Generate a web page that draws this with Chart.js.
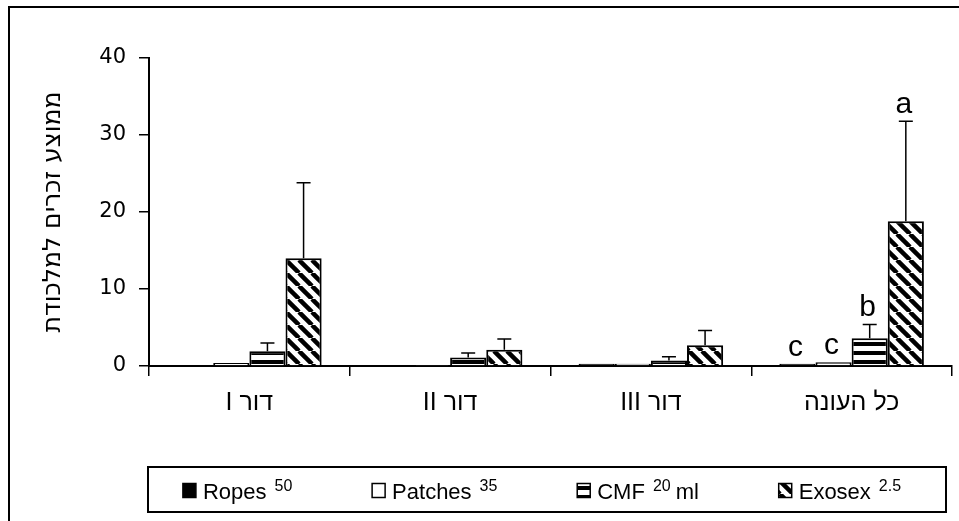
<!DOCTYPE html>
<html>
<head>
<meta charset="utf-8">
<script src="https://cdn.jsdelivr.net/npm/chart.js@4.4.0/dist/chart.umd.min.js"></script>
<style>
  html, body { margin: 0; padding: 0; background: #fff; }
  #wrap { position: relative; width: 959px; height: 521px; overflow: hidden; }
  #frame { position: absolute; left: 8px; top: 6px; width: 1000px; height: 600px;
           border-left: 2px solid #000; border-top: 2px solid #000; }
  canvas { position: absolute; left: 0; top: 0; }
</style>
</head>
<body>
<div id="wrap">
  <div id="frame"></div>
  <canvas id="chart" width="959" height="521"></canvas>
</div>
<script>
// categories and tick labels
const categories = ["דור I", "דור II", "דור III", "כל העונה"];
const yTicks = [0, 10, 20, 30, 40];
const yTitle = "ממוצע זכרים למלכודת";

// legend text: name, superscript dose, unit
const seriesNames = ["Ropes", "Patches", "CMF", "Exosex"];
const seriesDose = ["50", "35", "20", "2.5"];
const seriesUnit = ["", "", "ml", ""];

// means
const ropes = [0.05, 0.05, 0.3, 0.3];
const patches = [0.4, 0.05, 0.3, 0.5];
const cmf = [1.9, 1.1, 0.7, 3.6];
const exosex = [14.0, 2.1, 2.7, 18.8];

// upper error (added on top of the mean)
const ropesErr = [0, 0, 0, 0];
const patchesErr = [0, 0, 0, 0];
const cmfErr = [1.1, 0.6, 0.5, 1.8];
const exosexErr = [9.8, 1.4, 1.9, 13.0];

// significance letters
const ropesLetters = ["", "", "", "c"];
const patchesLetters = ["", "", "", "c"];
const cmfLetters = ["", "", "", "b"];
const exosexLetters = ["", "", "", "a"];

const errors = [ropesErr, patchesErr, cmfErr, exosexErr];
const letters = [ropesLetters, patchesLetters, cmfLetters, exosexLetters];

//pattern fills
function hStripes() {
  const c = document.createElement("canvas");
  c.width = 8; c.height = 9;
  const g = c.getContext("2d");
  g.fillStyle = "#fff"; g.fillRect(0, 0, 8, 9);
  g.fillStyle = "#000"; g.fillRect(0, 0, 8, 4);
  return g.createPattern(c, "repeat");
}

function diagStripes() {
  const c = document.createElement("canvas");
  const n = 13;
  c.width = n; c.height = n;
  const g = c.getContext("2d");
  g.fillStyle = "#fff"; g.fillRect(0, 0, n, n);
  g.strokeStyle = "#000"; g.lineWidth = 4.5;
  [-n, 0, n].forEach((k) => {
    g.beginPath(); g.moveTo(k, 0); g.lineTo(k + n, n); g.stroke();
  });
  return g.createPattern(c, "repeat");
}

const fills = ["#000", "#fff", hStripes(), diagStripes()];

// error bars, letters and the boxed legend
const extras = {
  id: "extras",
  afterDatasetsDraw(chart) {
    const ctx = chart.ctx;
    const y = chart.scales.y;
    ctx.save();
    ctx.strokeStyle = "#000";
    ctx.fillStyle = "#000";
    ctx.lineWidth = 1.5;
    ctx.font = "30px 'Liberation Sans'";
    ctx.textAlign = "center";
    ctx.textBaseline = "alphabetic";
    chart.data.datasets.forEach((ds, i) => {
      chart.getDatasetMeta(i).data.forEach((bar, j) => {
        const err = errors[i][j];
        const yTop = y.getPixelForValue(ds.data[j] + err);
        if (err > 0) {
          ctx.beginPath();
          ctx.moveTo(bar.x, bar.y);
          ctx.lineTo(bar.x, yTop);
          ctx.moveTo(bar.x - 7, yTop);
          ctx.lineTo(bar.x + 7, yTop);
          ctx.stroke();
        }
        if (letters[i][j]) ctx.fillText(letters[i][j], bar.x - 2, yTop - 8);
      });
    });
    ctx.restore();
  },
  afterDraw(chart) {
    const ctx = chart.ctx;
    const lx = 148, ly = 467, lw = 798, lh = 45;
    ctx.save();
    ctx.strokeStyle = "#000";
    ctx.lineWidth = 2;
    ctx.strokeRect(lx, ly, lw, lh);

    const mainFont = "22px 'Liberation Sans'";
    const supFont = "16px 'Liberation Sans'";
    const widths = seriesNames.map((name, i) => {
      ctx.font = mainFont;
      let w = 13 + 7 + ctx.measureText(name).width + 8;
      ctx.font = supFont;
      w += ctx.measureText(seriesDose[i]).width;
      if (seriesUnit[i]) {
        ctx.font = mainFont;
        w += 5 + ctx.measureText(seriesUnit[i]).width;
      }
      return w;
    });
    const gap = (lw - widths.reduce((a, b) => a + b, 0)) / widths.length;
    let x = lx + gap / 2 - 5;
    const base = ly + lh / 2 + 9;
    ctx.textAlign = "left";
    ctx.textBaseline = "alphabetic";
    seriesNames.forEach((name, i) => {
      ctx.fillStyle = fills[i];
      ctx.fillRect(x, base - 15, 13, 14);
      ctx.lineWidth = 1.5;
      ctx.strokeRect(x, base - 15, 13, 14);
      let tx = x + 13 + 7;
      ctx.fillStyle = "#000";
      ctx.font = mainFont;
      ctx.fillText(name, tx, base);
      tx += ctx.measureText(name).width + 8;
      ctx.font = supFont;
      ctx.fillText(seriesDose[i], tx, base - 8);
      tx += ctx.measureText(seriesDose[i]).width;
      if (seriesUnit[i]) {
        ctx.font = mainFont;
        ctx.fillText(seriesUnit[i], tx + 5, base);
      }
      x += widths[i] + gap;
    });
    ctx.restore();
  },
};

const seriesData = [ropes, patches, cmf, exosex];

const chart = new Chart(document.getElementById("chart"), {
  type: "bar",
  data: {
    labels: categories,
    datasets: seriesNames.map((name, i) => ({
      label: name,
      data: seriesData[i],
      backgroundColor: fills[i],
      borderColor: "#000",
      borderWidth: 2,
      barPercentage: 1,
      categoryPercentage: 0.72,
    })),
  },
  options: {
    responsive: false,
    animation: false,
    layout: { padding: { top: 58, right: 7, left: 0, bottom: 0 } },
    plugins: {
      legend: { display: false },
      tooltip: { enabled: false },
    },
    scales: {
      x: {
        grid: {
          display: true,
          drawOnChartArea: false,
          offset: true,
          tickLength: 10,
          color: "#000",
          lineWidth: 1.5,
        },
        border: { color: "#000", width: 2 },
        ticks: {
          color: "#000",
          font: { family: "Liberation Sans", size: 25 },
          padding: 12,
          maxRotation: 0,
          callback: (v, i) => "\u202B" + categories[i] + "\u202C",
        },
        afterFit: (s) => { s.height = 155; },
      },
      y: {
        min: 0,
        max: 40,
        afterBuildTicks: (s) => { s.ticks = yTicks.map((v) => ({ value: v })); },
        grid: {
          drawOnChartArea: false,
          tickLength: 10,
          color: "#000",
          lineWidth: 1.5,
        },
        border: { color: "#000", width: 2 },
        ticks: {
          color: "#000",
          font: { family: "DejaVu Sans", size: 21 },
          padding: 13,
        },
        title: {
          display: true,
          text: yTitle,
          color: "#000",
          font: { family: "DejaVu Sans", size: 25 },
          padding: { top: 38, bottom: 0 },
        },
        afterFit: (s) => { s.width = 149; },
      },
    },
  },
  plugins: [extras],
});
</script>
</body>
</html>
